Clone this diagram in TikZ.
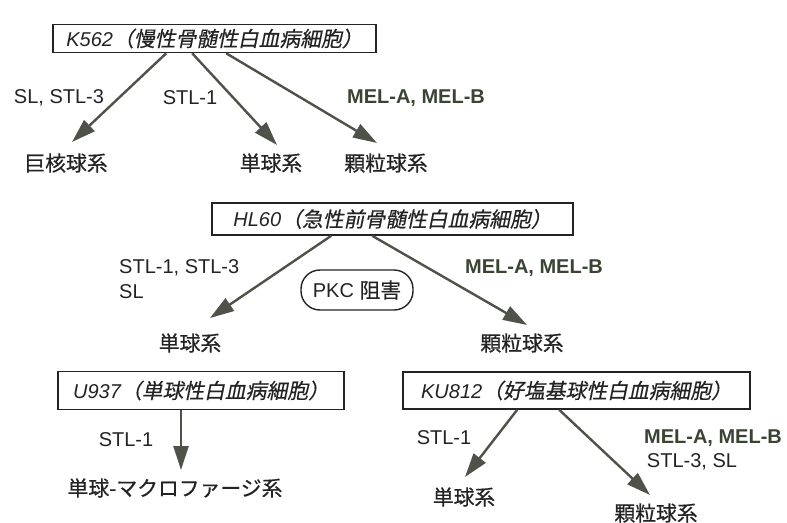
\documentclass[tikz,border=0pt]{standalone}
\usepackage{fontspec}
\setmainfont{Liberation Sans}
\newfontfamily\jp{Noto Sans CJK JP}[Scale=1.04,FakeBold=0.6]
\newfontfamily\jpit{Noto Sans CJK JP}[Scale=1.04,FakeSlant=0.2,FakeBold=0.4]
\usetikzlibrary{arrows.meta,calc}
\definecolor{arrc}{RGB}{78,82,72}
\definecolor{txtc}{RGB}{35,35,35}
\definecolor{melc}{RGB}{58,68,52}
\tikzset{
  cellbox/.style={draw=txtc, line width=1.6pt, inner sep=0pt, text=txtc, font=\fontsize{20}{24}\selectfont},
  lbl/.style={inner sep=0pt, text=txtc, font=\fontsize{20}{24}\selectfont},
  mel/.style={inner sep=0pt, text=melc, font=\fontsize{20}{24}\selectfont\bfseries},
  lin/.style={draw=arrc, line width=2.4pt, -{Triangle[length=24pt,width=15pt]}},
  pill/.style={draw=txtc, line width=1.4pt, rounded corners=19pt, minimum width=112pt, minimum height=40pt, inner sep=0pt, text=txtc, font=\fontsize{20}{24}\selectfont}
}
\begin{document}
\begin{tikzpicture}[x=1pt,y=-1pt]
\useasboundingbox (0,0) rectangle (787,522);
% K562
\node[cellbox, minimum width=323pt, minimum height=28pt] (k562) at (214.5,38.5) {\itshape K562{\jpit （慢性骨髄性白血病細胞）}};
\node[lbl] (kl1) at (59,98) {SL, STL-3};
\node[lbl] (kl2) at (190,98) {STL-1};
\node[mel] (kl3) at (416,98) {MEL-A, MEL-B};
\node[lbl] (kt1) at (66,163) {\jp 巨核球系};
\node[lbl] (kt2) at (271,163) {\jp 単球系};
\node[lbl] (kt3) at (386,163) {\jp 顆粒球系};
\coordinate (ka1) at (72,142);
\coordinate (ka2) at (277,145);
\coordinate (ka3) at (377,143);
\draw[lin] ($(k562.south west)+(114,0)$) -- (ka1);
\draw[lin] ($(k562.south west)+(140,0)$) -- (ka2);
\draw[lin] ($(k562.south west)+(174,0)$) -- (ka3);
% HL60
\node[cellbox, minimum width=361pt, minimum height=32pt] (hl60) at (392.5,219) {\itshape HL60{\jpit （急性前骨髄性白血病細胞）}};
\node[lbl, anchor=west] (hl1) at (119,268) {STL-1, STL-3};
\node[lbl, anchor=west] (hl2) at (119,292) {SL};
\node[mel] (hl3) at (534,268) {MEL-A, MEL-B};
\node[pill] (pkc) at (357,290) {PKC {\jp 阻害}};
\node[lbl] (ht1) at (190,343) {\jp 単球系};
\node[lbl] (ht2) at (522,343) {\jp 顆粒球系};
\coordinate (ha1) at (210,318);
\coordinate (ha2) at (527,325);
\draw[lin] ($(hl60.south west)+(120,0)$) -- (ha1);
\draw[lin] ($(hl60.south west)+(161,0)$) -- (ha2);
% U937
\node[cellbox, minimum width=286pt, minimum height=38pt] (u937) at (201,390.5) {\itshape U937{\jpit （単球性白血病細胞）}};
\node[lbl] (ul1) at (126,440) {STL-1};
\node[lbl] (ut1) at (175,488) {\jp 単球-マクロファージ系};
\coordinate (ua1) at (181,470);
\draw[lin] (u937.south -| ua1) -- (ua1);
% KU812
\node[cellbox, minimum width=347pt, minimum height=37pt] (ku812) at (576.5,390.5) {\itshape KU812{\jpit （好塩基球性白血病細胞）}};
\node[lbl] (kul1) at (444,438) {STL-1};
\node[mel] (kul2) at (713,438) {MEL-A, MEL-B};
\node[lbl] (kul3) at (692,462) {STL-3, SL};
\node[lbl] (kut1) at (464,497) {\jp 単球系};
\node[lbl] (kut2) at (656,513) {\jp 顆粒球系};
\coordinate (kua1) at (465,477);
\coordinate (kua2) at (650,495);
\draw[lin] ($(ku812.south west)+(115,0)$) -- (kua1);
\draw[lin] ($(ku812.south west)+(157,0)$) -- (kua2);
\end{tikzpicture}
\end{document}
